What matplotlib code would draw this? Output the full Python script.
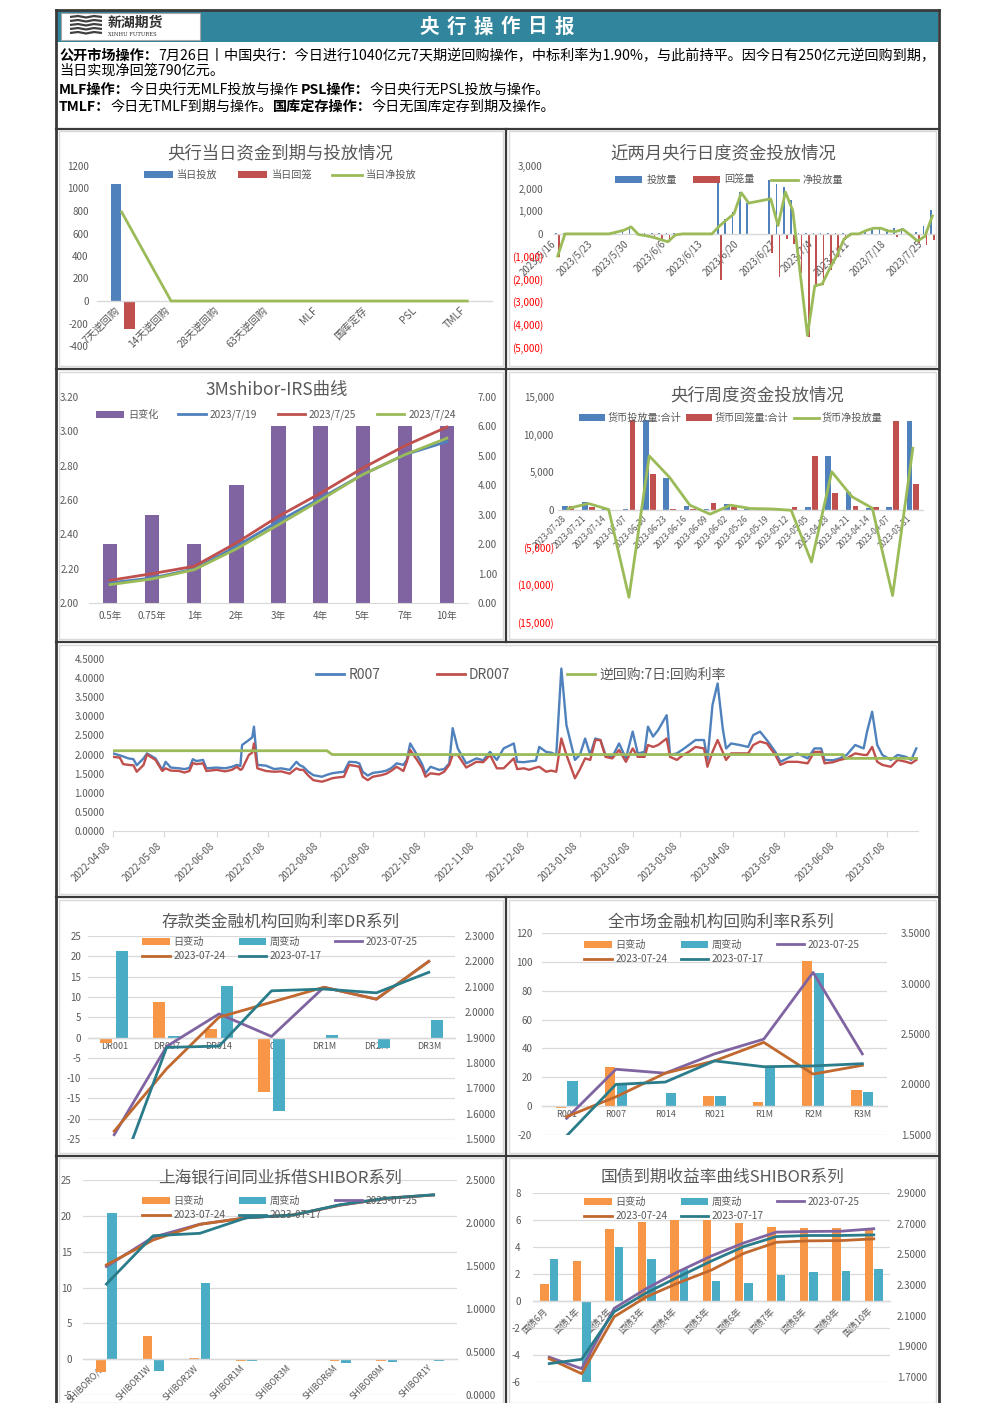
import numpy as np
import pandas as pd
import matplotlib
matplotlib.use("Agg")
import matplotlib.pyplot as plt
from matplotlib.patches import Rectangle, Patch
from matplotlib.lines import Line2D

plt.rcParams['font.family'] = ['Noto Sans CJK SC', 'DejaVu Sans']
plt.rcParams['axes.unicode_minus'] = False

nan = np.nan

# ---------------- DATA ----------------
# Panel 1: 央行当日资金到期与投放情况
p1_cats = ['7天逆回购', '14天逆回购', '28天逆回购', '63天逆回购', 'MLF', '国库定存', 'PSL', 'TMLF']
p1_inject = [1040, 0, 0, 0, 0, 0, 0, 0]
p1_withdraw = [-250, 0, 0, 0, 0, 0, 0, 0]
p1_net = [790, 0, 0, 0, 0, 0, 0, 0]

# Panel 2: 近两月央行日度资金投放情况 (business days 2023-05-16 .. 2023-07-26)
p2_start, p2_end = '2023-05-16', '2023-07-26'
p2_inject = [20, 20, 20, 20, 20, 20, 20, 20, 100, 180,
             330, 20, 20, 20, 20, 20, 20, 20, 20, 20,
             20, 20, 2390, 640, 960, 1840, 1380, nan, nan, 2380,
             2220, 2070, 1480, 50, 50, 50, 50, 50, 50, 50,
             50, 50, 170, 270, 320, 200, 250, 240, 20, 70,
             370, 1040]
p2_withdraw = [-1000, -20, -20, -20, -20, -20, -20, -20, -20, -20,
               -20, -50, -100, -170, -270, -370, -70, -20, -20, -20,
               -20, -20, -2050, -20, -70, -20, -20, nan, nan, -850,
               -1900, -220, -450, -1750, -4540, -2340, -2270, -1600, -1010, -270,
               -50, -50, -20, -20, -70, -70, -150, -40, -70, -390,
               -470, -250]
p2_net = [-980, 0, 0, 0, 0, 0, 0, 0, 80, 160,
          310, -30, -80, -150, -250, -350, -50, 0, 0, 0,
          0, 0, 340, 620, 890, 1820, 1360, nan, nan, 1550,
          370, 1850, 1030, -1700, -4490, -2290, -2220, -1550, -960, -220,
          0, 0, 150, 250, 250, 130, 100, 200, -50, -320,
          -100, 790]

# Panel 3: 3Mshibor-IRS曲线
p3_tenors = ['0.5年', '0.75年', '1年', '2年', '3年', '4年', '5年', '7年', '10年']
p3_change = [2, 3, 2, 4, 6, 6, 6, 6, 6]
p3_0719 = [2.117, 2.146, 2.198, 2.330, 2.476, 2.610, 2.748, 2.864, 2.940]
p3_0725 = [2.132, 2.171, 2.214, 2.350, 2.505, 2.640, 2.786, 2.916, 3.025]
p3_0724 = [2.107, 2.140, 2.194, 2.315, 2.456, 2.600, 2.748, 2.864, 2.960]

# Panel 4: 央行周度资金投放情况
p4_weeks = ['2023-07-28', '2023-07-21', '2023-07-14', '2023-07-07', '2023-06-30', '2023-06-23',
            '2023-06-16', '2023-06-09', '2023-06-02', '2023-05-26', '2023-05-19', '2023-05-12',
            '2023-05-05', '2023-04-28', '2023-04-21', '2023-04-14', '2023-04-07', '2023-03-31']
p4_inject = [490, 1030, 130, 100, 11960, 4150, 450, 130, 800, 20, 20, 130, 360, 7140, 2370, 180, 360, 11740]
p4_withdraw = [450, 360, 0, 11960, 4730, 130, 90, 890, 270, 0, 0, 360, 7140, 2140, 490, 360, 11740, 3390]
p4_net = [130, 800, 0, -11700, 7140, 4290, 580, -620, 580, 130, 80, -100, -7000, 5040, 1700, 180, -11470, 8170]

# Panel 5: R007 / DR007 / 逆回购7日利率
p5_dates = ['2022-04-08', '2022-04-12', '2022-04-14', '2022-04-17', '2022-04-20', '2022-04-22', '2022-04-26',
            '2022-04-28', '2022-05-03', '2022-05-07', '2022-05-09', '2022-05-12', '2022-05-17', '2022-05-20',
            '2022-05-23', '2022-05-25', '2022-05-27', '2022-05-31', '2022-06-02', '2022-06-08', '2022-06-13',
            '2022-06-17', '2022-06-20', '2022-06-22', '2022-06-23', '2022-06-27', '2022-06-29', '2022-06-30',
            '2022-07-02', '2022-07-07', '2022-07-12', '2022-07-16', '2022-07-21', '2022-07-25', '2022-07-27',
            '2022-07-29', '2022-08-01', '2022-08-04', '2022-08-09', '2022-08-12', '2022-08-15', '2022-08-18',
            '2022-08-22', '2022-08-25', '2022-08-29', '2022-08-31', '2022-09-02', '2022-09-05', '2022-09-08',
            '2022-09-13', '2022-09-16', '2022-09-19', '2022-09-22', '2022-09-26', '2022-09-28', '2022-09-30',
            '2022-10-04', '2022-10-07', '2022-10-09', '2022-10-12', '2022-10-17', '2022-10-20', '2022-10-23',
            '2022-10-25', '2022-10-28', '2022-11-02', '2022-11-08', '2022-11-12', '2022-11-16', '2022-11-20',
            '2022-11-24', '2022-11-30', '2022-12-02', '2022-12-06', '2022-12-09', '2022-12-13', '2022-12-15',
            '2022-12-19', '2022-12-22', '2022-12-25', '2022-12-28', '2022-12-31', '2023-01-05', '2023-01-08',
            '2023-01-11', '2023-01-14', '2023-01-17', '2023-01-20', '2023-01-23', '2023-01-27', '2023-01-31',
            '2023-02-04', '2023-02-08', '2023-02-11', '2023-02-15', '2023-02-17', '2023-02-20', '2023-02-23',
            '2023-02-28', '2023-03-02', '2023-03-06', '2023-03-10', '2023-03-13', '2023-03-17', '2023-03-22',
            '2023-03-24', '2023-03-27', '2023-03-30', '2023-04-02', '2023-04-04', '2023-04-07', '2023-04-12',
            '2023-04-17', '2023-04-20', '2023-04-24', '2023-04-28', '2023-05-03', '2023-05-06', '2023-05-10',
            '2023-05-16', '2023-05-22', '2023-05-26', '2023-05-30', '2023-06-01', '2023-06-06', '2023-06-10',
            '2023-06-14', '2023-06-19', '2023-06-24', '2023-06-26', '2023-06-29', '2023-07-02', '2023-07-05',
            '2023-07-10', '2023-07-14', '2023-07-19', '2023-07-22', '2023-07-25']
p5_r007 = [2.03, 1.98, 1.95, 1.90, 1.88, 1.72, 1.90,
           2.03, 1.90, 1.60, 1.81, 1.66, 1.64, 1.62,
           1.65, 1.88, 1.83, 1.86, 1.64, 1.66, 1.64,
           1.68, 1.73, 1.70, 2.25, 2.38, 2.45, 2.73,
           1.73, 1.71, 1.62, 1.64, 1.60, 1.81, 1.72,
           1.68, 1.55, 1.46, 1.42, 1.47, 1.51, 1.53,
           1.55, 1.81, 1.80, 1.77, 1.55, 1.45, 1.52,
           1.55, 1.58, 1.65, 1.77, 1.73, 1.86, 2.29,
           1.99, 1.75, 1.51, 1.68, 1.60, 1.62, 1.77,
           2.69, 2.16, 1.77, 1.90, 1.85, 2.07, 1.86,
           2.16, 2.29, 1.81, 1.80, 1.82, 1.84, 2.20,
           2.07, 2.05, 1.99, 4.25, 2.77, 1.86, 2.00,
           2.42, 1.99, 2.42, 2.38, 1.99, 1.94, 2.29,
           1.90, 2.60, 2.03, 2.07, 2.73, 2.47, 2.64,
           3.03, 1.99, 2.03, 2.15, 2.25, 2.38, 2.38,
           1.86, 3.30, 3.86, 2.69, 2.16, 2.29, 2.25,
           2.20, 2.51, 2.60, 2.38, 2.07, 1.81, 1.90,
           2.03, 1.90, 2.16, 2.16, 1.86, 1.85, 1.90,
           1.99, 2.25, 2.16, 2.60, 3.12, 2.25, 1.99,
           1.86, 1.99, 1.94, 1.86, 2.16]
p5_dr007 = [1.94, 1.92, 1.75, 1.73, 1.72, 1.55, 1.73,
            2.00, 1.86, 1.57, 1.64, 1.58, 1.57, 1.53,
            1.57, 1.78, 1.75, 1.77, 1.57, 1.60, 1.56,
            1.60, 1.68, 1.60, 1.62, 1.99, 2.05, 2.29,
            1.64, 1.57, 1.55, 1.56, 1.50, 1.64, 1.60,
            1.60, 1.45, 1.33, 1.29, 1.33, 1.38, 1.40,
            1.42, 1.73, 1.70, 1.68, 1.42, 1.33, 1.42,
            1.46, 1.50, 1.58, 1.68, 1.57, 1.81, 2.12,
            1.86, 1.65, 1.42, 1.51, 1.48, 1.55, 1.73,
            1.99, 1.99, 1.66, 1.81, 1.80, 1.99, 1.64,
            1.64, 1.90, 1.62, 1.64, 1.60, 1.66, 1.68,
            1.55, 1.58, 1.55, 2.42, 1.99, 1.38, 1.62,
            1.90, 1.86, 2.38, 2.38, 1.94, 1.90, 2.12,
            1.81, 2.16, 1.94, 1.94, 2.25, 2.20, 2.25,
            2.42, 1.94, 1.86, 2.00, 2.07, 2.20, 2.16,
            1.68, 2.07, 2.38, 2.07, 1.86, 2.03, 2.03,
            2.03, 2.25, 2.34, 2.29, 1.99, 1.73, 1.81,
            1.81, 1.77, 2.07, 2.07, 1.77, 1.80, 1.86,
            1.90, 2.03, 1.99, 1.99, 2.20, 1.81, 1.73,
            1.68, 1.86, 1.81, 1.77, 1.86]
p5_rr_dates = ['2022-04-08', '2022-08-12', '2022-08-15', '2023-06-12', '2023-06-13', '2023-07-26']
p5_rr = [2.10, 2.10, 2.00, 2.00, 1.90, 1.90]

# Panel 6: DR系列
p6_cats = ['DR001', 'DR007', 'DR014', 'DR021', 'DR1M', 'DR2M', 'DR3M']
p6_day = [-1.4, 8.8, 2.1, -13.5, 0.0, 0.0, 0.0]
p6_week = [21.3, 0.4, 12.7, -18.0, 0.7, -2.5, 4.3]
p6_0725 = [1.517, 1.865, 1.993, 1.904, 2.098, 2.051, 2.200]
p6_0724 = [1.531, 1.777, 1.980, 2.039, 2.098, 2.051, 2.200]
p6_0717 = [1.304, 1.861, 1.866, 2.084, 2.091, 2.076, 2.157]

# Panel 7: R系列
p7_cats = ['R001', 'R007', 'R014', 'R021', 'R1M', 'R2M', 'R3M']
p7_day = [-1.5, 27.3, 0.0, 6.9, 3.2, 100.7, 11.3]
p7_week = [17.4, 15.0, 8.8, 6.9, 27.3, 92.6, 9.7]
p7_0725 = [1.665, 2.151, 2.112, 2.303, 2.449, 3.110, 2.303]
p7_0724 = [1.682, 1.878, 2.112, 2.234, 2.417, 2.103, 2.190]
p7_0717 = [1.491, 2.001, 2.024, 2.234, 2.176, 2.184, 2.206]

# Panel 8: SHIBOR系列
p8_cats = ['SHIBORO/N', 'SHIBOR1W', 'SHIBOR2W', 'SHIBOR1M', 'SHIBOR3M', 'SHIBOR6M', 'SHIBOR9M', 'SHIBOR1Y']
p8_day = [-1.8, 3.3, 0.2, -0.2, 0.0, -0.2, -0.2, 0.0]
p8_week = [20.4, -1.7, 10.6, -0.2, 0.0, -0.6, -0.4, -0.2]
p8_0725 = [1.494, 1.835, 1.986, 2.060, 2.093, 2.207, 2.285, 2.326]
p8_0724 = [1.512, 1.802, 1.984, 2.062, 2.093, 2.209, 2.287, 2.326]
p8_0717 = [1.290, 1.852, 1.880, 2.062, 2.093, 2.213, 2.289, 2.328]

# Panel 9: 国债到期收益率
p9_cats = ['国债6月', '国债1年', '国债2年', '国债3年', '国债4年', '国债5年', '国债6年',
           '国债7年', '国债8年', '国债9年', '国债10年']
p9_day = [1.25, 3.0, 5.35, 5.85, 6.0, 6.0, 5.75, 5.5, 5.4, 5.4, 5.4]
p9_week = [3.1, -6.0, 4.0, 3.1, 2.35, 1.45, 1.35, 1.95, 2.15, 2.25, 2.35]
p9_0725 = [1.830, 1.755, 2.148, 2.278, 2.390, 2.490, 2.575, 2.645, 2.649, 2.651, 2.667]
p9_0724 = [1.820, 1.722, 2.093, 2.224, 2.316, 2.398, 2.507, 2.579, 2.588, 2.590, 2.601]
p9_0717 = [1.788, 1.816, 2.126, 2.250, 2.355, 2.457, 2.551, 2.616, 2.623, 2.623, 2.627]

# ---------------- STYLE ----------------
BLUE = '#4F81BD'
RED = '#C0504D'
GREEN = '#9BBB59'
PURPLE = '#8064A2'
ORANGE = '#F79646'
AQUA = '#4BACC6'
BROWN = '#C0682E'
DTEAL = '#2B7C8A'
GRAY = '#595959'
LIGHT = '#D9D9D9'
DARK = '#3A3A3A'
TEAL_HDR = '#31859C'

W, H = 992, 1403
fig = plt.figure(figsize=(W / 100, H / 100), dpi=100)
fig.patch.set_facecolor('white')


def fx(x):
    return x / W


def fy(y):
    return 1 - y / H


def px_axes(x0, y0, x1, y1):
    ax = fig.add_axes([x0 / W, 1 - y1 / H, (x1 - x0) / W, (y1 - y0) / H])
    ax.patch.set_alpha(0)
    return ax


def clean(ax, fs=7):
    for s in ax.spines.values():
        s.set_visible(False)
    ax.tick_params(length=0, labelsize=fs, colors=GRAY)


def zero_spine(ax):
    sp = ax.spines['bottom']
    sp.set_visible(True)
    sp.set_position(('data', 0))
    sp.set_color(LIGHT)
    sp.set_linewidth(1)


def title(x, y, s, fs=12.5):
    fig.text(fx(x), fy(y), s, ha='center', va='center', fontsize=fs, color=GRAY)


def legend_at(handles, labels, cx, cy, ncol, fs=7.3, hl=2.7, cs=1.3, hp=0.4, ls=0.35):
    return fig.legend(handles, labels, loc='center', bbox_to_anchor=(fx(cx), fy(cy)), ncol=ncol,
                      frameon=False, fontsize=fs, handlelength=hl, handletextpad=hp, columnspacing=cs,
                      borderaxespad=0, borderpad=0, labelspacing=ls, labelcolor=GRAY)


def patch(c):
    return Patch(facecolor=c, edgecolor='none')


def line(c, lw=2):
    return Line2D([], [], color=c, lw=lw)


def paren_labels(ax, ticks):
    ax.set_yticks(ticks)
    ax.set_yticklabels(['{:,.0f}'.format(v) if v >= 0 else '({:,.0f})'.format(-v) for v in ticks])
    for lbl, v in zip(ax.get_yticklabels(), ticks):
        lbl.set_color(GRAY if v >= 0 else '#FF0000')


# ---------------- FRAMES / HEADER ----------------
bg = fig.add_axes([0, 0, 1, 1], zorder=-10)
bg.set_xlim(0, W)
bg.set_ylim(H, 0)
bg.axis('off')
bg.add_patch(Rectangle((57, 11), 881, 31, color=TEAL_HDR, lw=0))
bg.add_patch(Rectangle((61, 13), 139, 27, facecolor='white', edgecolor='#A6A6A6', lw=0.8))
bg.plot([56, 56], [10, 1403], color=DARK, lw=2)
bg.plot([939, 939], [10, 1403], color=DARK, lw=2)
bg.plot([56, 939], [10, 10], color=DARK, lw=2)
for yy in [128.5, 369, 642, 897, 1155.5]:
    bg.plot([56, 939], [yy, yy], color=DARK, lw=1.6)
bg.plot([506, 506], [128.5, 642], color=DARK, lw=1.6)
bg.plot([506, 506], [897, 1403], color=DARK, lw=1.6)
for (x0, y0, x1, y1) in [(59, 131, 503, 366), (509, 131, 936, 366), (59, 372, 503, 639),
                         (509, 372, 936, 639), (59, 645, 936, 894), (59, 900, 503, 1153),
                         (509, 900, 936, 1153), (59, 1158, 503, 1403), (509, 1158, 936, 1403)]:
    bg.add_patch(Rectangle((x0, y0), x1 - x0, y1 - y0, fill=False, edgecolor=LIGHT, lw=1))

# logo (decorative waves)
for k in range(5):
    bg.plot([70, 78, 86, 94, 102], [17 + 4 * k, 16 + 4 * k, 17.5 + 4 * k, 16 + 4 * k, 17 + 4 * k],
            color='#404040', lw=1.6, solid_capstyle='butt')
fig.text(fx(108), fy(23), '新湖期货', fontsize=10, fontweight='bold', color='#303030', va='center', ha='left')
fig.text(fx(108), fy(35), 'XINHU FUTURES', fontsize=3.8, color='#303030', va='center', ha='left',
         family=['DejaVu Serif'])

for i, ch in enumerate('央行操作日报'):
    fig.text(fx(497 + (i - 2.5) * 27), fy(27), ch, fontsize=14, fontweight='bold', color='white',
             ha='center', va='center')

renderer = fig.canvas.get_renderer()
lines_txt = [
    (56, [('公开市场操作：', True),
          ('7月26日丨中国央行：今日进行1040亿元7天期逆回购操作，中标利率为1.90%，与此前持平。因今日有250亿元逆回购到期，', False)]),
    (71, [('当日实现净回笼790亿元。', False)]),
    (89.5, [('MLF操作：', True), ('今日央行无MLF投放与操作 ', False), ('PSL操作：', True),
            ('今日央行无PSL投放与操作。', False)]),
    (107, [('TMLF：', True), ('今日无TMLF到期与操作。', False), ('国库定存操作：', True),
           ('今日无国库定存到期及操作。', False)]),
]
# fit line 1 to the header width
probe = 0
for txt, b in lines_txt[0][1]:
    t = fig.text(0, 0, txt, fontsize=10, fontweight='bold' if b else 'normal')
    probe += t.get_window_extent(renderer=renderer).width
    t.remove()
hdr_fs = 10 * 876 / probe
for yy, segs in lines_txt:
    xx = 59
    for txt, b in segs:
        t = fig.text(fx(xx), fy(yy), txt, fontsize=hdr_fs, fontweight='bold' if b else 'normal',
                     color='black', ha='left', va='center')
        xx += t.get_window_extent(renderer=renderer).width

# ---------------- PANEL 1 ----------------
ax1 = px_axes(97, 166, 492, 346)
x1 = np.arange(len(p1_cats))
ax1.bar(x1 - 0.12, p1_inject, width=0.2, color=BLUE, zorder=2)
ax1.bar(x1 + 0.15, p1_withdraw, width=0.22, color=RED, zorder=2)
ax1.plot(x1, p1_net, color=GREEN, lw=2, zorder=3)
ax1.set_xlim(-0.5, len(p1_cats) - 0.5)
ax1.set_ylim(-400, 1200)
ax1.set_yticks(np.arange(-400, 1201, 200))
clean(ax1)
zero_spine(ax1)
ax1.set_xticks(x1)
ax1.set_xticklabels(p1_cats, rotation=45, ha='right', va='top', fontsize=7.5)
ax1.tick_params(axis='y', pad=6)
ax1.tick_params(axis='x', pad=3)
title(280, 153, '央行当日资金到期与投放情况')
legend_at([patch(BLUE), patch(RED), line(GREEN)], ['当日投放', '当日回笼', '当日净投放'], 280, 175, 3,
          hl=2.9, cs=2.0)

# ---------------- PANEL 2 ----------------
ax2 = px_axes(554, 166, 936, 347)
d2 = pd.bdate_range(p2_start, p2_end)
x2 = np.arange(len(d2))
ax2.bar(x2 - 0.2, p2_inject, width=0.22, color=BLUE, zorder=2)
ax2.bar(x2 + 0.2, p2_withdraw, width=0.22, color=RED, zorder=2)
net2 = np.array(p2_net, dtype=float)
m2 = np.isfinite(net2)
ax2.plot(x2[m2], net2[m2], color=GREEN, lw=2, zorder=3)
ax2.set_xlim(-0.5, len(d2) - 0.5)
ax2.set_ylim(-5000, 3000)
clean(ax2)
zero_spine(ax2)
paren_labels(ax2, list(range(-5000, 3001, 1000)))
ax2.set_xticks(x2[::5])
ax2.set_xticklabels(['{}/{}/{}'.format(d.year, d.month, d.day) for d in d2[::5]], rotation=45,
                    ha='right', va='top', fontsize=7)
ax2.tick_params(axis='y', pad=8)
ax2.tick_params(axis='x', pad=3)
title(723, 153, '近两月央行日度资金投放情况')
legend_at([patch(BLUE), patch(RED), line(GREEN)], ['投放量', '回笼量', '净投放量'], 729, 180, 3,
          hl=2.7, cs=1.6)

# ---------------- PANEL 3 ----------------
ax3 = px_axes(89, 397, 468, 603)
x3 = np.arange(len(p3_tenors))
ax3.bar(x3, p3_change, width=0.34, color=PURPLE, zorder=1)
ax3.set_xlim(-0.5, len(p3_tenors) - 0.5)
ax3.set_ylim(0, 7)
ax3.set_yticks(np.arange(0, 7.01, 1))
ax3.set_yticklabels(['{:.2f}'.format(v) for v in np.arange(0, 7.01, 1)])
clean(ax3)
ax3.spines['bottom'].set_visible(True)
ax3.spines['bottom'].set_color(LIGHT)
ax3.set_xticks(x3)
ax3.set_xticklabels(p3_tenors, fontsize=7)
ax3.tick_params(axis='x', pad=6)
ax3b = ax3.twinx()
ax3b.plot(x3, p3_0719, color=BLUE, lw=2)
ax3b.plot(x3, p3_0725, color=RED, lw=2)
ax3b.plot(x3, p3_0724, color=GREEN, lw=2)
ax3b.set_ylim(2.0, 3.2)
ax3b.set_yticks(np.arange(2.0, 3.21, 0.2))
ax3b.set_yticklabels(['{:.2f}'.format(v) for v in np.arange(2.0, 3.21, 0.2)])
clean(ax3b)
ax3b.yaxis.tick_left()
ax3.yaxis.tick_right()
ax3.tick_params(axis='y', pad=7, length=0)
ax3b.tick_params(axis='y', pad=7, length=0)
title(277, 390, '3Mshibor-IRS曲线')
legend_at([patch(PURPLE), line(BLUE), line(RED), line(GREEN)], ['日变化', '2023/7/19', '2023/7/25', '2023/7/24'],
          276, 415, 4, hl=2.7, cs=2.0)

# ---------------- PANEL 4 ----------------
ax4 = px_axes(558, 397, 923, 622)
x4 = np.arange(len(p4_weeks))
ax4.bar(x4 - 0.17, p4_inject, width=0.28, color=BLUE, zorder=2)
ax4.bar(x4 + 0.17, p4_withdraw, width=0.28, color=RED, zorder=2)
ax4.plot(x4, p4_net, color=GREEN, lw=2, zorder=3)
ax4.set_xlim(-0.5, len(p4_weeks) - 0.5)
ax4.set_ylim(-15000, 15000)
clean(ax4)
zero_spine(ax4)
paren_labels(ax4, list(range(-15000, 15001, 5000)))
ax4.set_xticks(x4)
ax4.set_xticklabels(p4_weeks, rotation=45, ha='right', va='top', fontsize=6)
ax4.tick_params(axis='y', pad=3)
ax4.tick_params(axis='x', pad=3)
title(757, 395, '央行周度资金投放情况')
legend_at([patch(BLUE), patch(RED), line(GREEN)], ['货币投放量:合计', '货币回笼量:合计', '货币净投放量'],
          731, 418, 3, fs=7.3, hl=2.5, cs=0.5, hp=0.3)

# ---------------- PANEL 5 ----------------
ax5 = px_axes(113, 659, 918, 831)
d5 = pd.to_datetime(p5_dates)
ax5.plot(d5, p5_r007, color=BLUE, lw=1.7)
ax5.plot(d5, p5_dr007, color=RED, lw=1.7)
ax5.plot(pd.to_datetime(p5_rr_dates), p5_rr, color=GREEN, lw=2)
ax5.set_xlim(pd.Timestamp('2022-04-08'), pd.Timestamp('2023-07-26'))
ax5.set_ylim(0, 4.5)
yt5 = np.arange(0, 4.51, 0.5)
ax5.set_yticks(yt5)
ax5.set_yticklabels(['{:.4f}'.format(v) for v in yt5])
clean(ax5)
ax5.spines['bottom'].set_visible(True)
ax5.spines['bottom'].set_color(LIGHT)
xt5 = pd.date_range('2022-04-08', '2023-07-08', freq=pd.DateOffset(months=1))
ax5.set_xticks(xt5)
ax5.set_xticklabels([t.strftime('%Y-%m-%d') for t in xt5], rotation=45, ha='right', va='top', fontsize=7)
ax5.tick_params(axis='x', length=4, color=LIGHT, pad=3)
ax5.tick_params(axis='y', pad=6)
legend_at([line(BLUE), line(RED), line(GREEN)], ['R007', 'DR007', '逆回购:7日:回购利率'], 521, 675, 3,
          fs=10, hl=2.0, cs=4.1, hp=0.3)


# ---------------- PANELS 6-9 (dual axis bar + line) ----------------
def dual_panel(box, cats, day, week, l25, l24, l17, lylim, lstep, rylim, rticks, bw, off,
               rot=False, xfs=6.5, lpad=4, rpad=6, xpad=3):
    ax = px_axes(*box)
    xx = np.arange(len(cats))
    ax.set_axisbelow(True)
    ax.bar(xx - off, day, width=bw, color=ORANGE, zorder=2)
    ax.bar(xx + off, week, width=bw, color=AQUA, zorder=2)
    ax.set_xlim(-0.5, len(cats) - 0.5)
    ax.set_ylim(*lylim)
    ax.set_yticks(np.arange(lylim[0], lylim[1] + 0.001, lstep))
    ax.grid(axis='y', color=LIGHT, lw=0.9)
    clean(ax)
    zero_spine(ax)
    ax.set_xticks(xx)
    if rot:
        ax.set_xticklabels(cats, rotation=45, ha='right', va='top', fontsize=xfs)
    else:
        ax.set_xticklabels(cats, fontsize=xfs)
    ax.tick_params(axis='y', pad=lpad)
    ax.tick_params(axis='x', pad=xpad)
    axr = ax.twinx()
    axr.plot(xx, l25, color=PURPLE, lw=2)
    axr.plot(xx, l24, color=BROWN, lw=2)
    axr.plot(xx, l17, color=DTEAL, lw=2)
    axr.set_ylim(*rylim)
    axr.set_yticks(rticks)
    axr.set_yticklabels(['{:.4f}'.format(v) for v in rticks])
    clean(axr)
    axr.tick_params(axis='y', pad=rpad)
    return ax, axr


def dual_legend(cx, cy, cs=1.3):
    legend_at([patch(ORANGE), line(BROWN), patch(AQUA), line(DTEAL), line(PURPLE)],
              ['日变动', '2023-07-24', '周变动', '2023-07-17', '2023-07-25'], cx, cy, 3,
              fs=7.3, hl=2.7, cs=cs, hp=0.35, ls=0.45)


dual_panel((88, 936, 455, 1139), p6_cats, p6_day, p6_week, p6_0725, p6_0724, p6_0717,
           (-25, 25), 5, (1.5, 2.3), np.arange(1.5, 2.301, 0.1), 0.23, 0.15, xfs=6.5, lpad=5, rpad=7)
title(281, 922, '存款类金融机构回购利率DR系列', fs=12)
dual_legend(280, 949)

dual_panel((542, 933, 887, 1135), p7_cats, p7_day, p7_week, p7_0725, p7_0724, p7_0717,
           (-20, 120), 20, (1.5, 3.5), np.arange(1.5, 3.501, 0.5), 0.21, 0.12, xfs=6.5, lpad=7, rpad=10)
title(721, 922, '全市场金融机构回购利率R系列', fs=12)
dual_legend(722, 952)

dual_panel((83, 1180, 457, 1395), p8_cats, p8_day, p8_week, p8_0725, p8_0724, p8_0717,
           (-5, 25), 5, (0.0, 2.5), np.arange(0.0, 2.501, 0.5), 0.21, 0.12, rot=True, xfs=6.5,
           lpad=8, rpad=6, xpad=3)
title(280, 1178, '上海银行间同业拆借SHIBOR系列', fs=12)
dual_legend(280, 1208)

dual_panel((533, 1193, 890, 1382), p9_cats, p9_day, p9_week, p9_0725, p9_0724, p9_0717,
           (-6, 8), 2, (1.668, 2.9), np.arange(1.7, 2.901, 0.2), 0.26, 0.145, rot=True, xfs=6.5,
           lpad=9, rpad=5, xpad=4)
title(722, 1177, '国债到期收益率曲线SHIBOR系列', fs=12)
dual_legend(722, 1209)

fig.savefig('out.png', dpi=100, facecolor='white')
